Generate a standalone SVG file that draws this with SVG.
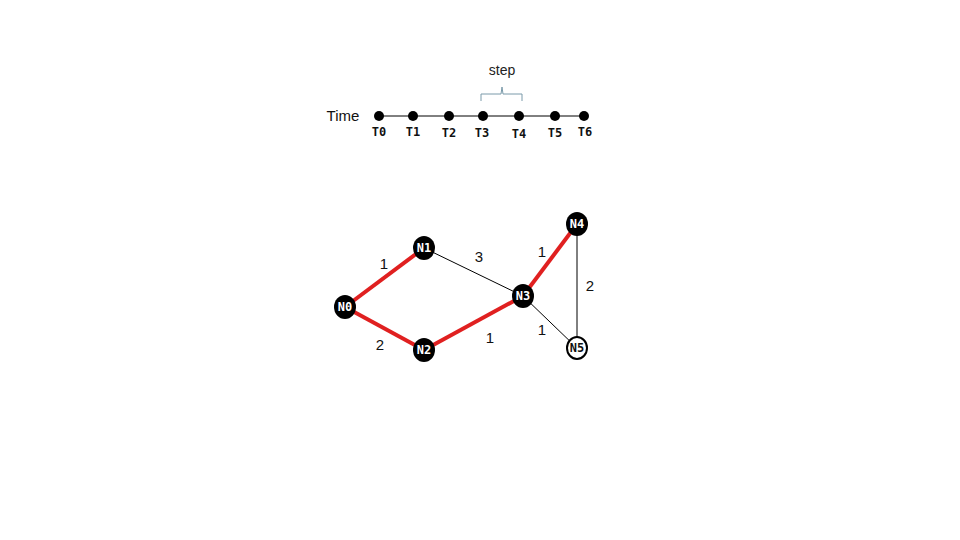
<svg xmlns="http://www.w3.org/2000/svg" width="960" height="540" viewBox="0 0 960 540">
<style>
.lbl{font-family:"Liberation Sans",Arial,sans-serif;font-size:15px;fill:#111;text-anchor:middle}
.tl{font-family:"DejaVu Sans Mono",monospace;font-size:12px;font-weight:bold;fill:#111;text-anchor:middle}
.nl{font-family:"DejaVu Sans Mono",monospace;font-size:12px;font-weight:bold;fill:#fff;text-anchor:middle}
.node{fill:#000}
.red{stroke:#e02020;stroke-width:4;fill:none}
.thin{stroke:#000;stroke-width:1;fill:none}
</style>
<rect width="960" height="540" fill="#fff"/>
<g id="timeline">
<text x="343" y="121" style="font-family:'Liberation Sans',Arial,sans-serif;font-size:15px;fill:#111;text-anchor:middle">Time</text>
<line x1="379" y1="116" x2="584" y2="116" stroke="#000" stroke-width="1"/>
<g fill="#000">
<circle cx="379" cy="116" r="5"/><circle cx="413" cy="116" r="5"/><circle cx="449" cy="116" r="5"/><circle cx="483" cy="116" r="5"/><circle cx="519" cy="116" r="5"/><circle cx="555" cy="116" r="5"/><circle cx="584" cy="116" r="5"/>
</g>
<text class="tl" x="379" y="136">T0</text>
<text class="tl" x="413" y="136">T1</text>
<text class="tl" x="449" y="137">T2</text>
<text class="tl" x="482" y="137">T3</text>
<text class="tl" x="519" y="138">T4</text>
<text class="tl" x="555" y="137">T5</text>
<text class="tl" x="585" y="136">T6</text>
<path d="M481,101 V94 H501 L502,87 L503,94 H522 V101" fill="none" stroke="#7a9aaa" stroke-width="1"/>
<text x="502" y="75" style="font-family:'Liberation Sans',Arial,sans-serif;font-size:14px;fill:#222;text-anchor:middle">step</text>
</g>
<g id="connectors">
<line class="red" x1="345" y1="307" x2="424" y2="248"/>
<line class="red" x1="345" y1="307" x2="424" y2="350"/>
<line class="red" x1="424" y1="350" x2="523" y2="296"/>
<line class="red" x1="523" y1="296" x2="577" y2="224"/>
<line class="thin" x1="424" y1="248" x2="523" y2="296"/>
<line class="thin" x1="523" y1="296" x2="577" y2="348"/>
<line class="thin" x1="577" y1="224" x2="577" y2="348"/>
<text class="lbl" x="384" y="269">1</text>
<text class="lbl" x="479" y="262">3</text>
<text class="lbl" x="542" y="257">1</text>
<text class="lbl" x="590" y="291">2</text>
<text class="lbl" x="380" y="350">2</text>
<text class="lbl" x="490" y="343">1</text>
<text class="lbl" x="542" y="335">1</text>
</g>
<g id="N0"><ellipse class="node" cx="345" cy="307" rx="11" ry="12"/><text class="nl" x="345" y="311">N0</text></g>
<g id="N1"><ellipse class="node" cx="424" cy="248" rx="11" ry="12"/><text class="nl" x="424" y="252">N1</text></g>
<g id="N2"><ellipse class="node" cx="424" cy="350" rx="11" ry="12"/><text class="nl" x="424" y="354">N2</text></g>
<g id="N3"><ellipse class="node" cx="523" cy="296" rx="11" ry="12"/><text class="nl" x="523" y="300">N3</text></g>
<g id="N4"><ellipse class="node" cx="577" cy="224" rx="11" ry="12"/><text class="nl" x="577" y="228">N4</text></g>
<g id="N5"><ellipse cx="577" cy="348" rx="10" ry="11" fill="#fff" stroke="#000" stroke-width="2"/><text class="tl" x="577" y="352">N5</text></g>
</svg>
